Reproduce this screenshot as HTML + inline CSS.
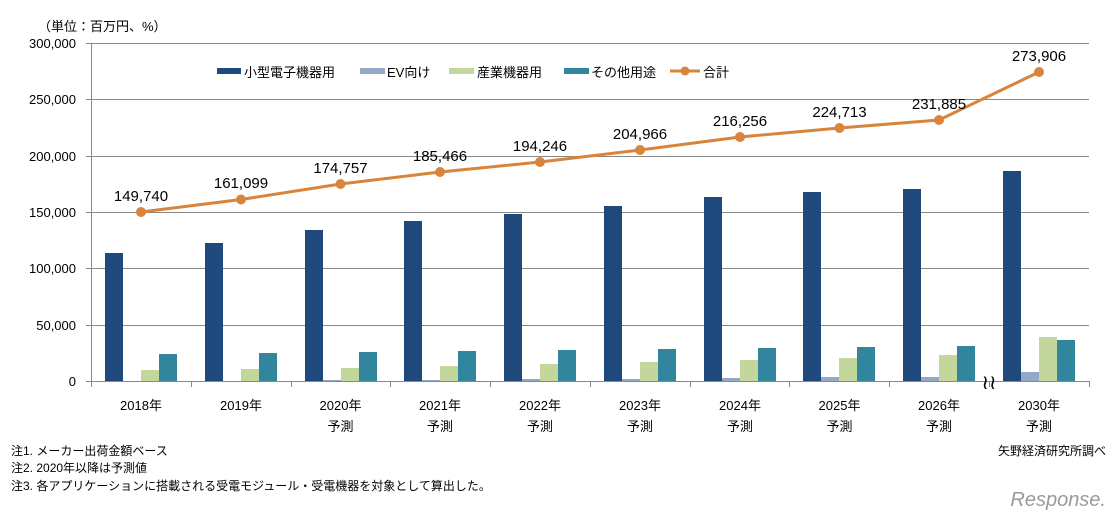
<!DOCTYPE html>
<html><head><meta charset="utf-8"><style>
html,body{margin:0;padding:0;background:#fff;}
svg{display:block;font-family:"Liberation Sans","Noto Sans CJK JP",sans-serif;}
</style></head><body>
<svg width="1119" height="520" viewBox="0 0 1119 520" xmlns="http://www.w3.org/2000/svg">
<rect width="1119" height="520" fill="#fff"/>
<text x="38" y="31" font-size="13" fill="#000">（単位：百万円、%）</text>
<g stroke="#888" stroke-width="1">
<line x1="91" y1="43.5" x2="1089" y2="43.5"/>
<line x1="91" y1="99.5" x2="1089" y2="99.5"/>
<line x1="91" y1="156.5" x2="1089" y2="156.5"/>
<line x1="91" y1="212.5" x2="1089" y2="212.5"/>
<line x1="91" y1="268.5" x2="1089" y2="268.5"/>
<line x1="91" y1="325.5" x2="1089" y2="325.5"/>
<line x1="91" y1="381.5" x2="1089" y2="381.5"/>
<line x1="91.5" y1="43" x2="91.5" y2="381"/>
<line x1="86" y1="43.5" x2="91" y2="43.5"/><line x1="86" y1="99.5" x2="91" y2="99.5"/><line x1="86" y1="156.5" x2="91" y2="156.5"/><line x1="86" y1="212.5" x2="91" y2="212.5"/><line x1="86" y1="268.5" x2="91" y2="268.5"/><line x1="86" y1="325.5" x2="91" y2="325.5"/><line x1="86" y1="381.5" x2="91" y2="381.5"/>
<line x1="91.5" y1="381" x2="91.5" y2="387"/><line x1="191.5" y1="381" x2="191.5" y2="387"/><line x1="291.5" y1="381" x2="291.5" y2="387"/><line x1="390.5" y1="381" x2="390.5" y2="387"/><line x1="490.5" y1="381" x2="490.5" y2="387"/><line x1="590.5" y1="381" x2="590.5" y2="387"/><line x1="690.5" y1="381" x2="690.5" y2="387"/><line x1="789.5" y1="381" x2="789.5" y2="387"/><line x1="889.5" y1="381" x2="889.5" y2="387"/><line x1="989.5" y1="381" x2="989.5" y2="387"/><line x1="1089.5" y1="381" x2="1089.5" y2="387"/>
</g>
<g font-size="13" fill="#000" text-anchor="end">
<text x="76" y="48">300,000</text><text x="76" y="104">250,000</text><text x="76" y="161">200,000</text><text x="76" y="217">150,000</text><text x="76" y="273">100,000</text><text x="76" y="330">50,000</text><text x="76" y="386">0</text>
</g>
<g fill="#1f497d">
<rect x="105" y="253" width="18" height="128"/><rect x="205" y="243" width="18" height="138"/><rect x="305" y="230" width="18" height="151"/><rect x="404" y="221" width="18" height="160"/><rect x="504" y="214" width="18" height="167"/><rect x="604" y="206" width="18" height="175"/><rect x="704" y="197" width="18" height="184"/><rect x="803" y="192" width="18" height="189"/><rect x="903" y="189" width="18" height="192"/><rect x="1003" y="171" width="18" height="210"/>
</g>
<g fill="#95a9c7">
<rect x="323" y="380" width="18" height="1"/><rect x="422" y="380" width="18" height="1"/><rect x="522" y="379" width="18" height="2"/><rect x="622" y="379" width="18" height="2"/><rect x="722" y="378" width="18" height="3"/><rect x="821" y="377" width="18" height="4"/><rect x="921" y="377" width="18" height="4"/><rect x="1021" y="372" width="18" height="9"/>
</g>
<g fill="#c3d69b">
<rect x="141" y="370" width="18" height="11"/><rect x="241" y="369" width="18" height="12"/><rect x="341" y="368" width="18" height="13"/><rect x="440" y="366" width="18" height="15"/><rect x="540" y="364" width="18" height="17"/><rect x="640" y="362" width="18" height="19"/><rect x="740" y="360" width="18" height="21"/><rect x="839" y="358" width="18" height="23"/><rect x="939" y="355" width="18" height="26"/><rect x="1039" y="337" width="18" height="44"/>
</g>
<g fill="#31859c">
<rect x="159" y="354" width="18" height="27"/><rect x="259" y="353" width="18" height="28"/><rect x="359" y="352" width="18" height="29"/><rect x="458" y="351" width="18" height="30"/><rect x="558" y="350" width="18" height="31"/><rect x="658" y="349" width="18" height="32"/><rect x="758" y="348" width="18" height="33"/><rect x="857" y="347" width="18" height="34"/><rect x="957" y="346" width="18" height="35"/><rect x="1057" y="340" width="18" height="41"/>
</g>
<text x="989" y="389" font-size="20" text-anchor="middle" fill="#000">≀≀</text>
<polyline fill="none" stroke="#d9843b" stroke-width="3" points="141,212 241,199.5 340.5,184 440,172 540,162 640,150 740,137 839.5,128 939,120 1039,72"/>
<g fill="#d9843b">
<circle cx="141" cy="212" r="5"/><circle cx="241" cy="199.5" r="5"/><circle cx="340.5" cy="184" r="5"/><circle cx="440" cy="172" r="5"/><circle cx="540" cy="162" r="5"/><circle cx="640" cy="150" r="5"/><circle cx="740" cy="137" r="5"/><circle cx="839.5" cy="128" r="5"/><circle cx="939" cy="120" r="5"/><circle cx="1039" cy="72" r="5"/>
</g>
<g font-size="15" fill="#000" text-anchor="middle">
<text x="141" y="201">149,740</text><text x="241" y="188">161,099</text><text x="340.5" y="173">174,757</text><text x="440" y="161">185,466</text><text x="540" y="151">194,246</text><text x="640" y="139">204,966</text><text x="740" y="126">216,256</text><text x="839.5" y="117">224,713</text><text x="939" y="109">231,885</text><text x="1039" y="61">273,906</text>
</g>
<g font-size="13" fill="#000">
<rect x="217" y="68" width="24" height="6" fill="#1f497d"/><text x="244" y="77">小型電子機器用</text>
<rect x="360" y="68" width="25" height="6" fill="#95a9c7"/><text x="387" y="77">EV向け</text>
<rect x="449" y="68" width="25" height="6" fill="#c3d69b"/><text x="477" y="77">産業機器用</text>
<rect x="564" y="68" width="25" height="6" fill="#31859c"/><text x="591" y="77">その他用途</text>
<line x1="670" y1="71" x2="700" y2="71" stroke="#d9843b" stroke-width="3"/><circle cx="685" cy="71" r="4.5" fill="#d9843b"/><text x="703" y="77">合計</text>
</g>
<g font-size="13" fill="#000" text-anchor="middle">
<text x="141" y="410">2018年</text><text x="241" y="410">2019年</text><text x="340.5" y="410">2020年</text><text x="440" y="410">2021年</text><text x="540" y="410">2022年</text><text x="640" y="410">2023年</text><text x="740" y="410">2024年</text><text x="839.5" y="410">2025年</text><text x="939" y="410">2026年</text><text x="1039" y="410">2030年</text>
<text x="340.5" y="431">予測</text><text x="440" y="431">予測</text><text x="540" y="431">予測</text><text x="640" y="431">予測</text><text x="740" y="431">予測</text><text x="839.5" y="431">予測</text><text x="939" y="431">予測</text><text x="1039" y="431">予測</text>
</g>
<g font-size="12" fill="#000">
<text x="11" y="455">注1.  メーカー出荷金額ベース</text>
<text x="11" y="472">注2.  2020年以降は予測値</text>
<text x="11" y="490">注3.  各アプリケーションに搭載される受電モジュール・受電機器を対象として算出した。</text>
<text x="1106" y="455" text-anchor="end">矢野経済研究所調べ</text>
</g>
<text x="1106" y="506" font-size="20" fill="#9a9a9a" text-anchor="end" font-style="italic">Response.</text>
</svg>
</body></html>
